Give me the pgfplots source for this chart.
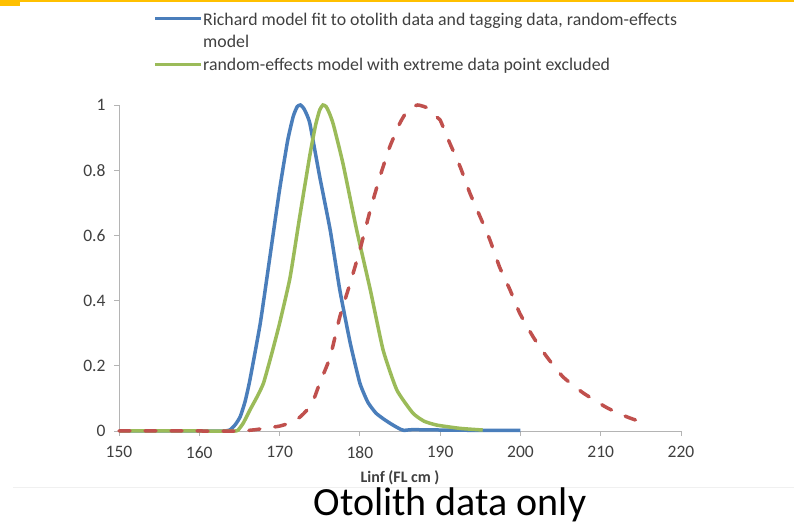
\documentclass[border=0pt]{standalone}
\usepackage{pgfplots}
\pgfplotsset{compat=1.18}
\usepackage{fontspec}
\setmainfont{Carlito}

\definecolor{xlblue}{RGB}{74,126,187}
\definecolor{xlgreen}{RGB}{155,187,89}
\definecolor{xlred}{RGB}{192,80,77}
\definecolor{xlorange}{RGB}{255,192,0}
\definecolor{axisgray}{RGB}{180,180,180}
\definecolor{textgray}{RGB}{64,64,64}

\begin{document}
\begin{tikzpicture}[x=1pt,y=1pt]
\path[use as bounding box,fill=white] (0,0) rectangle (794,526);

% slide decoration
\fill[xlorange] (0,524) rectangle (794,526);
\fill[xlorange] (0,520) rectangle (20,526);
\draw[gray!12,line width=0.8pt] (13,39) -- (794,39);

% legend
\draw[xlblue,line width=3pt] (155,507) -- (201,507);
\node[text=textgray,font=\fontsize{17.8}{22}\selectfont,align=left,anchor=west,inner sep=0pt]
  at (203,496) {Richard model fit to otolith data and tagging data, random-effects\\model};
\draw[xlgreen,line width=3pt] (155,461) -- (201,461);
\node[anchor=west,text=textgray,font=\fontsize{17.8}{22}\selectfont,inner sep=0pt]
  at (203,460) {random-effects model with extreme data point excluded};

\begin{axis}[
  at={(119pt,95pt)}, anchor=south west,
  scale only axis,
  width=562pt, height=326pt,
  xmin=150, xmax=220, ymin=0, ymax=1,
  axis x line=bottom, axis y line=left,
  axis line style={-,axisgray,line width=0.8pt},
  xtick={150,160,...,220},
  ytick={0,0.2,0.4,0.6,0.8,1},
  tick align=outside,
  major tick length=5pt,
  tick style={axisgray,line width=0.8pt},
  ticklabel style={text=textgray,font=\fontsize{17.5}{20}\selectfont},
  /pgf/number format/assume math mode=true,
  xticklabel style={yshift=-7pt},
  yticklabel style={xshift=-5pt},
  xlabel={Linf (FL cm )},
  xlabel style={at={(axis description cs:0.5,0)},anchor=center,yshift=-47pt,
    font=\bfseries\fontsize{16}{18}\selectfont,text=textgray},
  clip=false,
]
\addplot[xlblue,line width=3.5pt,smooth,tension=0.3] table {
150 0
160 0
163 0
163.8 0.003
164.5 0.02
165.1 0.044
165.7 0.09
166.3 0.156
167.6 0.331
168.8 0.535
170 0.74
171 0.89
171.7 0.965
172.2 0.995
172.6 1.0
173 0.99
173.4 0.97
173.8 0.94
175 0.78
176.3 0.617
177.5 0.433
178.8 0.27
180 0.147
181 0.088
182 0.055
183 0.036
184 0.02
185 0.006
185.5 0.002
186.5 0.004
190 0.003
195 0.002
200 0.002
};
\addplot[xlgreen,line width=3.5pt,smooth,tension=0.3] table {
150 0
160 0
164.5 0
165 0.008
165.5 0.025
166.3 0.064
167.2 0.105
168 0.147
169 0.235
170 0.33
171.3 0.47
172.5 0.656
173.8 0.85
174.5 0.94
175 0.985
175.4 1.0
175.8 0.995
176.2 0.975
176.7 0.94
177.9 0.82
179.6 0.617
181.3 0.433
182.9 0.248
184.6 0.126
186.6 0.055
188 0.03
189.6 0.018
192.5 0.008
195.3 0.003
};
\addplot[xlred,line width=3.5pt,line cap=round,dash pattern=on 11pt off 15pt,smooth,tension=0.3] table {
150 0
155 0
160 0
165 0
167 0.004
168 0.008
170 0.015
171.3 0.025
172.5 0.042
173.4 0.064
174.3 0.1
175 0.147
176.3 0.227
177.5 0.35
178.8 0.454
180 0.555
181.3 0.678
182.5 0.78
183.7 0.87
185 0.945
186 0.985
187.2 1.0
188.5 0.99
189.6 0.963
190 0.954
191.2 0.883
192.5 0.81
193.7 0.73
195 0.656
196.2 0.586
197.4 0.503
198.7 0.433
199.9 0.362
201.6 0.288
203.3 0.227
205.3 0.166
207.8 0.117
210.8 0.071
213.3 0.043
215 0.028
};
\end{axis}

\node[font=\fontsize{40}{48}\selectfont,text=black,anchor=base] at (450,10) {Otolith data only};
\end{tikzpicture}
\end{document}
